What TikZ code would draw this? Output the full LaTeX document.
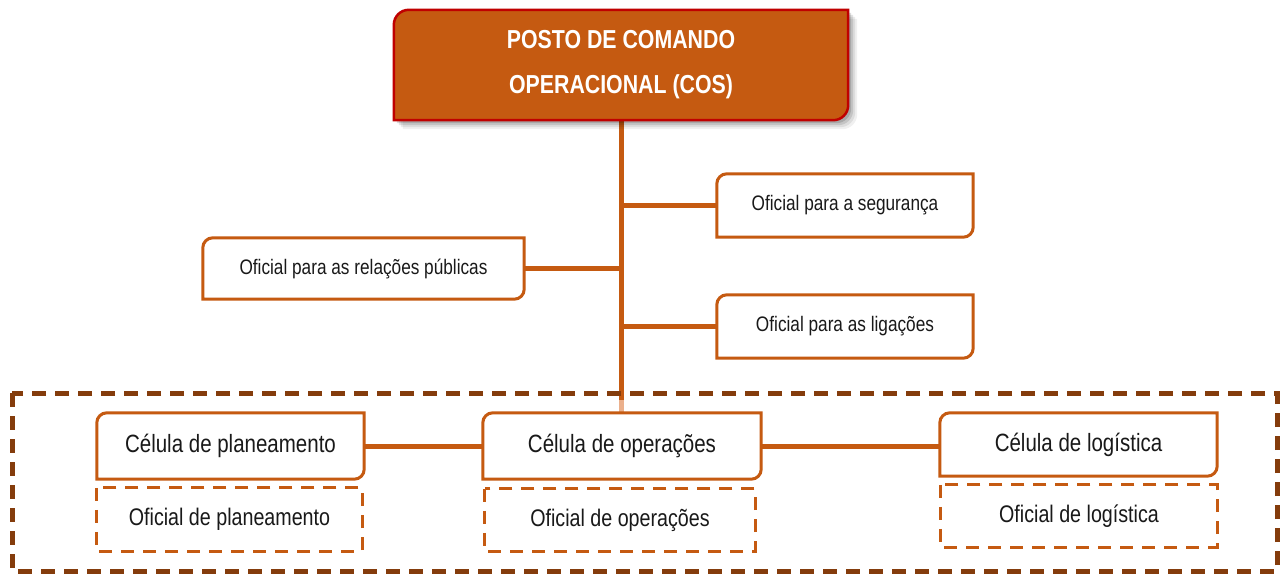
\documentclass[tikz,border=0pt]{standalone}
\usepackage{fontspec}
\setmainfont{Liberation Sans}[FakeStretch=0.82]
\usetikzlibrary{calc}
\definecolor{rust}{RGB}{197,90,17}
\definecolor{darkrust}{RGB}{132,60,12}
\definecolor{redline}{RGB}{192,0,0}
\definecolor{lightrust}{RGB}{235,176,140}
\tikzset{
  slot/.style={inner sep=0pt, align=center, text=black!90},
  small/.style={font=\fontsize{21}{25}\selectfont},
  mid/.style={font=\fontsize{24}{28}\selectfont},
  big/.style={font=\fontsize{25}{30}\selectfont},
  boxline/.style={draw=rust, line width=3pt, fill=white},
  dashbox/.style={draw=rust, line width=3pt, dash pattern=on 13pt off 9pt},
  link/.style={draw=rust, line width=5pt},
}
% outline with rounded top-left and bottom-right corners
\newcommand\diagframe[3]{%
  \path[#2] ([yshift=-#3]#1.north west) arc[start angle=180,end angle=90,radius=#3]
    -- (#1.north east) -- ([yshift=#3]#1.south east)
    arc[start angle=0,end angle=-90,radius=#3] -- (#1.south west) -- cycle;}
\begin{document}
\begin{tikzpicture}[x=1pt,y=1pt]
\useasboundingbox[fill=white] (0,0) rectangle (1281,-574);

% nodes (text holders)
\node[slot, minimum width=454pt, minimum height=110pt] (cos) at (621,-65) {};
\node[slot, small, minimum width=256pt, minimum height=63pt] (seg) at (845,-205.5) {};
\node[slot, small, minimum width=321pt, minimum height=61pt] (rp)  at (363.5,-268.5) {};
\node[slot, small, minimum width=256pt, minimum height=63pt] (lig) at (845,-326.5) {};
\node[slot, big, minimum width=267pt, minimum height=66pt] (cp) at (230.5,-446) {};
\node[slot, big, minimum width=278pt, minimum height=66pt] (co) at (622,-446) {};
\node[slot, big, minimum width=277pt, minimum height=63pt] (cl) at (1078.5,-444.5) {};
\node[slot, mid, minimum width=265pt, minimum height=63pt] (op) at (229.5,-519.5) {};
\node[slot, mid, minimum width=270pt, minimum height=62pt] (oo) at (620,-520) {};
\node[slot, mid, minimum width=276pt, minimum height=62pt] (ol) at (1079,-516) {};
\coordinate (onw) at (12,-393);
\coordinate (ose) at (1277,-571);
\coordinate (split) at (621,-400);

% connectors
\draw[link] (cos.south) -- (split);
\draw[draw=lightrust, line width=5pt] (split) -- (split |- co.north);
\draw[link] (seg.west) -- (seg.west -| cos.south);
\draw[link] (rp.east) -- (rp.east -| cos.south);
\draw[link] (lig.west) -- (lig.west -| cos.south);
\draw[link] (cp.east) -- (cp.east -| co.west);
\draw[link] (co.east) -- (co.east -| cl.west);

% top box shadow and frame
\foreach \o/\a in {9/0.06,7/0.08,5/0.11,3/0.14}{
  \begin{scope}[transform canvas={shift={(\o pt,-\o pt)}}]
    \diagframe{cos}{fill=black, fill opacity=\a}{15pt}
  \end{scope}}
\diagframe{cos}{fill=rust, draw=redline, line width=2.5pt}{15pt}
\node[slot, text=white, font=\fontsize{26}{45}\selectfont\bfseries] at (cos) {POSTO DE COMANDO\\OPERACIONAL (COS)};

% solid boxes
\foreach \n in {seg,rp,lig,cp,co,cl}{\diagframe{\n}{boxline}{10pt}}
\node[slot, small] at (seg) {Oficial para a segurança};
\node[slot, small] at (rp) {Oficial para as relações públicas};
\node[slot, small] at (lig) {Oficial para as ligações};
\node[slot, big] at (cp) {Célula de planeamento};
\node[slot, big] at (co) {Célula de operações};
\node[slot, big] at (cl) {Célula de logística};

% dashed boxes
\foreach \n in {op,oo,ol}{\draw[dashbox] (\n.north west) rectangle (\n.south east);}
\node[slot, mid] at (op) {Oficial de planeamento};
\node[slot, mid] at (oo) {Oficial de operações};
\node[slot, mid] at (ol) {Oficial de logística};

% outer dashed group
\draw[draw=darkrust, line width=5pt, dash pattern=on 14pt off 9pt] (onw) rectangle (ose);
\end{tikzpicture}
\end{document}
